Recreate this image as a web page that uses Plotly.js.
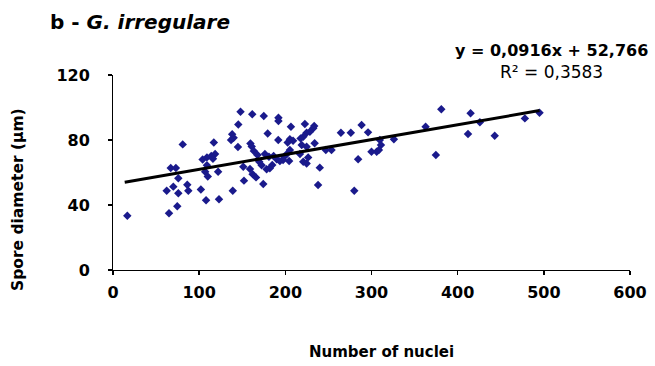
<!DOCTYPE html>
<html>
<head>
<meta charset="utf-8">
<script src="https://cdn.plot.ly/plotly-3.0.1.min.js"></script>
<style>html,body{margin:0;padding:0;background:#fff;}#chart{width:655px;height:366px;}</style>
</head>
<body>
<div id="chart"></div>
<script>
// Number of nuclei (x) and spore diameter in µm (y)
const nuclei = [
  16.6, 65, 74.6, 62.3, 70, 75.8, 86.2, 87.4, 75.8, 67, 73, 80.9,
  102, 108, 123, 104, 109, 114, 118.5, 116, 109, 107, 110, 122,
  117, 138.3, 140, 137, 145.4, 148, 161.6, 145, 139, 151.2, 152,
  159.5, 161, 163.5, 159, 162, 166,
  175, 192, 192, 179.5, 191.8, 202.7, 167.7, 176.3, 181, 186.4, 190, 193.7, 198.7, 202.7,
  169.7, 172.5, 178.3, 182, 184.8, 174.4,
  206.5, 222.7, 233.5, 232.4, 228.5, 224.7, 220.8, 217.7, 205.3, 209, 234,
  205.3, 219, 224.7, 247, 253.6, 264.5, 276, 288.5, 296, 309.7, 311, 300, 306, 308.6,
  197.4, 204.4, 217, 220.8, 224.7, 226.5, 240, 238, 284.5, 280,
  326, 362.8, 381, 415, 425.8, 412, 443, 374.7, 478, 495
];
const diameter = [
  33.4, 34.9, 39.2, 48.8, 51.3, 47.2, 52.5, 48.8, 56.4, 62.8, 62.8, 77.3,
  49.6, 42.9, 43.5, 68, 69.3, 70.2, 71.4, 68.5, 64.5, 60.5, 57.5, 60.5,
  78.4, 83.5, 81.4, 80, 89.6, 97.4, 95.8, 75.7, 48.8, 63.6, 55,
  77.8, 76, 73.2, 62.2, 59, 57,
  94.8, 93.7, 91.7, 84, 80, 78.4, 70.8, 71.4, 69.7, 70.2, 68.1, 67, 69.7, 71.8,
  66.6, 64.4, 62, 62.6, 64.6, 52.9,
  88.2, 89.8, 88.6, 87.2, 85.1, 84.5, 82, 81, 80.4, 79.6, 78,
  73.8, 76.9, 75.9, 73.8, 73.8, 84.5, 84.5, 89.2, 84.7, 80, 76.9, 72.8, 72.8, 73.8,
  67.7, 67.1, 71.4, 66.6, 65.6, 69.3, 63, 52.3, 68.1, 48.8,
  80.4, 88.2, 98.9, 96.4, 90.9, 83.7, 82.6, 70.8, 93.3, 96.8
];
// Linear trendline coefficients shown on the chart
const slope = 0.0916;
const intercept = 52.766;
const rSquared = "0,3583";
const xTicks = [0, 100, 200, 300, 400, 500, 600];
const yTicks = [0, 40, 80, 120];

const xMin = Math.min(...nuclei), xMax = Math.max(...nuclei);
const lineX = [xMin - 3, xMax];
const lineY = lineX.map(v => slope * v + intercept);

const fontFam = "DejaVu Sans, Arial, sans-serif";

const data = [
  {
    x: nuclei, y: diameter, type: 'scatter', mode: 'markers',
    marker: {symbol: 'diamond', size: 6.5, color: '#1a1a8c'},
    hoverinfo: 'x+y', showlegend: false
  },
  {
    x: lineX, y: lineY, type: 'scatter', mode: 'lines',
    line: {color: '#000000', width: 3},
    hoverinfo: 'skip', showlegend: false
  }
];

const layout = {
  width: 655, height: 366,
  margin: {l: 113, r: 25, t: 75, b: 96},
  paper_bgcolor: '#ffffff', plot_bgcolor: '#ffffff',
  font: {family: fontFam, color: '#000', size: 13},
  title: {
    text: '<b>b - <i>G. irregulare</i></b>',
    font: {family: fontFam, size: 20, color: '#000'},
    x: 50 / 655, xref: 'container', xanchor: 'left', y: 1 - 22 / 366, yref: 'container', yanchor: 'middle'
  },
  xaxis: {
    range: [0, 600], tickvals: xTicks,
    showgrid: false, zeroline: false, showline: true, linecolor: '#000', linewidth: 1,
    ticks: 'outside', ticklen: 4, tickcolor: '#000', tickwidth: 1.5,
    ticklabelstandoff: 4,
    tickfont: {family: fontFam, size: 16, color: '#000', weight: 'bold'},
    fixedrange: true
  },
  yaxis: {
    range: [0, 120], tickvals: yTicks,
    showgrid: false, zeroline: false, showline: true, linecolor: '#000', linewidth: 1,
    ticks: 'outside', ticklen: 4, tickcolor: '#000', tickwidth: 1.5,
    ticklabelstandoff: 15,
    tickfont: {family: fontFam, size: 16, color: '#000', weight: 'bold'},
    fixedrange: true
  },
  annotations: [
    {
      xref: 'paper', yref: 'paper', x: 1.0387, y: 1.128, xanchor: 'right', yanchor: 'middle',
      text: '<b>y = ' + slope.toString().replace('.', ',') + 'x + ' + intercept.toString().replace('.', ',') + '</b>',
      showarrow: false, font: {family: fontFam, size: 16, color: '#000'}
    },
    {
      xref: 'paper', yref: 'paper', x: 0.849, y: 1.015, xanchor: 'center', yanchor: 'middle',
      text: 'R² = ' + rSquared,
      showarrow: false, font: {family: fontFam, size: 17, color: '#000'}
    },
    {
      xref: 'paper', yref: 'paper', x: -0.1838, y: 0.364, xanchor: 'center', yanchor: 'middle',
      text: '<b>Spore diameter (µm)</b>', textangle: -90,
      showarrow: false, font: {family: fontFam, size: 15.5, color: '#000'}
    },
    {
      xref: 'paper', yref: 'paper', x: 0.520, y: -0.4205, xanchor: 'center', yanchor: 'middle',
      text: '<b>Number of nuclei</b>',
      showarrow: false, font: {family: fontFam, size: 15, color: '#000'}
    }
  ]
};

Plotly.newPlot('chart', data, layout, {displayModeBar: false, staticPlot: true});
</script>
</body>
</html>
